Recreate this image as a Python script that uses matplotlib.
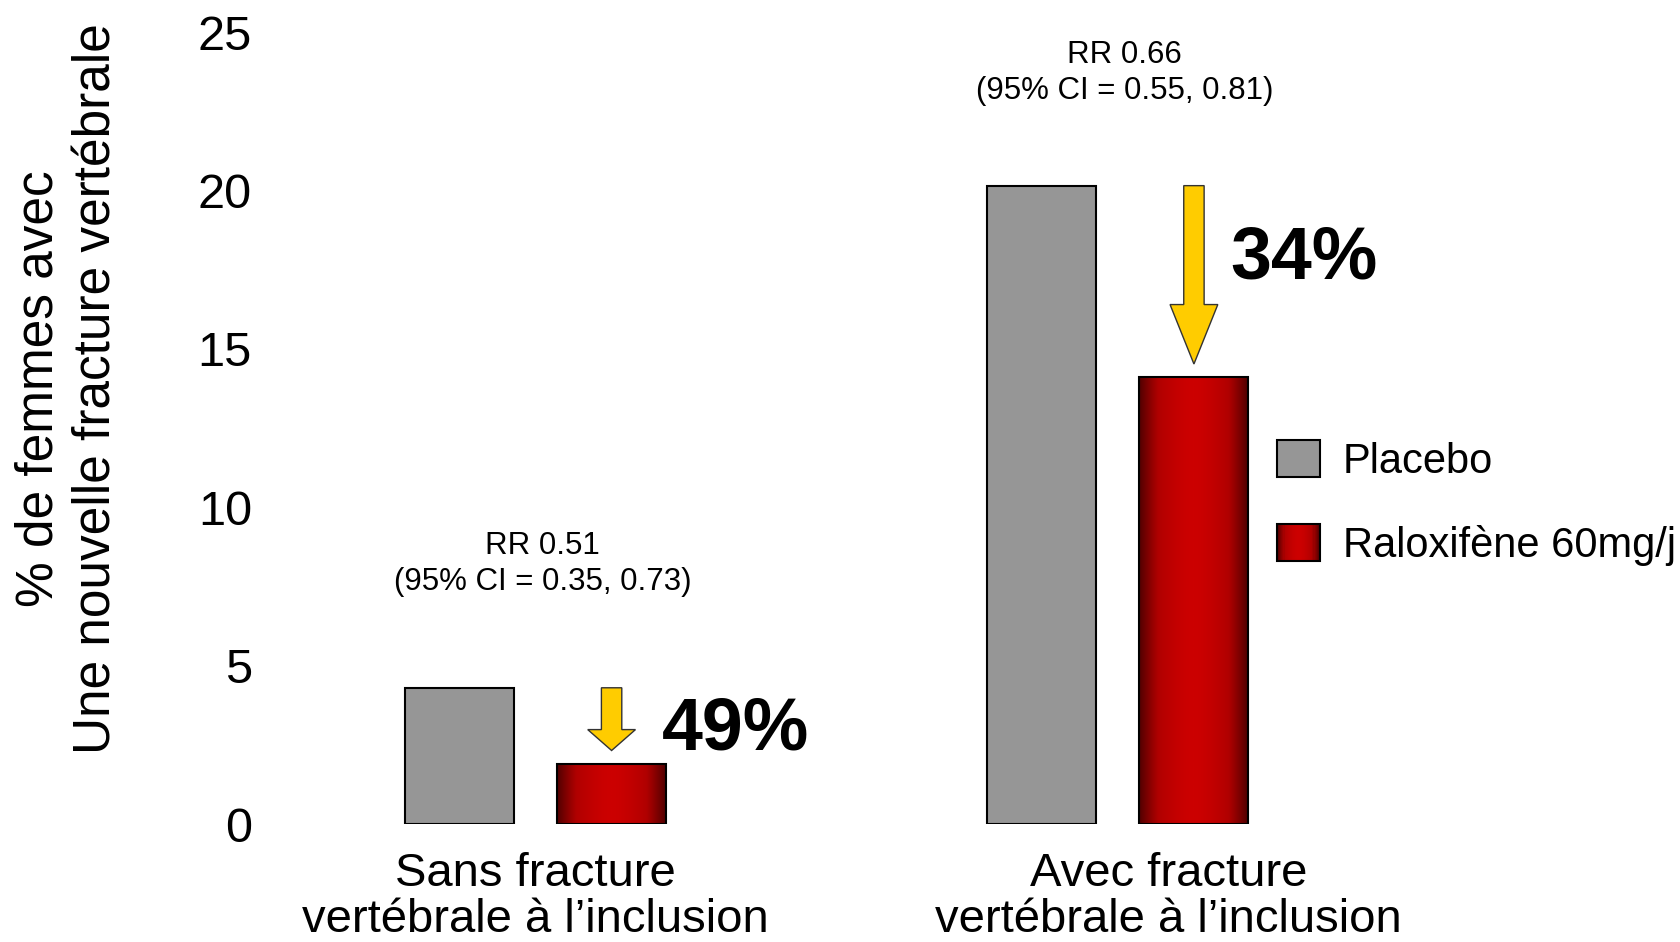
import numpy as np
import matplotlib
matplotlib.use('Agg')
import matplotlib.pyplot as plt
from matplotlib.patches import Rectangle, FancyArrow
from matplotlib.colors import LinearSegmentedColormap
from matplotlib.legend_handler import HandlerBase

plt.rcParams['font.family'] = ['Liberation Sans', 'DejaVu Sans']

# data
groups = ['Sans fracture\nvertébrale à l\u2019inclusion',
          'Avec fracture\nvertébrale à l\u2019inclusion']
series_names = ['Placebo', 'Raloxifène 60mg/j']
placebo = [4.3, 20.15]
raloxifene = [1.9, 14.1]
reductions = ['49%', '34%']
rr_labels = ['RR 0.51\n(95% CI = 0.35, 0.73)', 'RR 0.66\n(95% CI = 0.55, 0.81)']
yticks = [0, 5, 10, 15, 20, 25]

W, H = 1681, 942
fig = plt.figure(figsize=(W / 100, H / 100), dpi=100)
ax = fig.add_axes([270 / W, 118 / H, (W - 270) / W, 792 / H])

gray = '#969696'
red_cmap = LinearSegmentedColormap.from_list('red_grad', ['#cc0000', '#b00000', '#500000'])
grad = np.abs(np.linspace(-1, 1, 256)) ** 1.6

x = np.arange(len(groups))
width = 0.187
off = 0.1306

ax.bar(x - off, placebo, width, color=gray, edgecolor='black', linewidth=1.5, zorder=2)
rbars = ax.bar(x + off, raloxifene, width, facecolor='none', edgecolor='black',
               linewidth=1.5, zorder=3)
for b in rbars:
    x0, y0, w, h = b.get_x(), b.get_y(), b.get_width(), b.get_height()
    im = ax.imshow(grad[None, :], extent=[x0, x0 + w, y0, y0 + h], aspect='auto',
                   cmap=red_cmap, vmin=0, vmax=1, zorder=2, interpolation='bilinear')
    im.set_clip_path(b)

# yellow arrows from placebo level down to raloxifene level
for i in range(len(groups)):
    start = placebo[i]
    end = raloxifene[i] + 0.42
    length = start - end
    ax.add_patch(FancyArrow(x[i] + off, start, 0, -length, width=0.035,
                            head_width=0.082, head_length=length / 3,
                            length_includes_head=True, fc='#ffcc00',
                            ec='#333333', lw=1, zorder=4))

pct_x = [0.217, 1.193]
pct_y = [2.97, 17.85]
for i, t in enumerate(reductions):
    ax.text(pct_x[i], pct_y[i], t, fontsize=53, fontweight='bold',
            ha='left', va='center')

rr_y = [8.2, 23.7]
for i, t in enumerate(rr_labels):
    ax.text(x[i] + 0.012, rr_y[i], t, fontsize=22.5, ha='center', va='center',
            linespacing=1.27)

ax.set_xlim(-0.456, 1.967)
ax.set_ylim(0, 25)
ax.set_yticks(yticks)
ax.set_yticklabels([str(v) for v in yticks], fontsize=35)
ax.set_xticks([0, 1.087])
ax.set_xticklabels(groups, fontsize=34, linespacing=1.08)
ax.tick_params(axis='y', length=0, pad=13)
ax.tick_params(axis='x', length=0, pad=20)
for s in ax.spines.values():
    s.set_visible(False)

fig.text(68 / W, 1 - 389 / H, '% de femmes avec\nUne nouvelle fracture vertébrale',
         rotation=90, ha='center', va='center', fontsize=37, linespacing=1.25)


class GradientHandler(HandlerBase):
    def create_artists(self, legend, orig_handle, xdescent, ydescent, width, height,
                       fontsize, trans):
        n = 40
        vals = np.abs(np.linspace(-1, 1, n)) ** 1.6
        arts = []
        for k in range(n):
            arts.append(Rectangle((-xdescent + width * k / n, -ydescent), width / n * 1.05,
                                  height, fc=red_cmap(vals[k]), ec='none', transform=trans))
        arts.append(Rectangle((-xdescent, -ydescent), width, height, fc='none',
                              ec='black', lw=1.5, transform=trans))
        return arts


h_placebo = Rectangle((0, 0), 1, 1, fc=gray, ec='black', lw=1.5)
h_ralox = Rectangle((0, 0), 1, 1)
ax.legend([h_placebo, h_ralox], series_names, handler_map={h_ralox: GradientHandler()},
          loc='upper left', bbox_to_anchor=(1277 / W, 1 - 440 / H),
          bbox_transform=fig.transFigure, frameon=False, borderpad=0,
          borderaxespad=0, fontsize=30, handlelength=1.03, handleheight=1.0,
          handletextpad=0.55, labelspacing=1.0)

fig.savefig('out.png', dpi=100)
